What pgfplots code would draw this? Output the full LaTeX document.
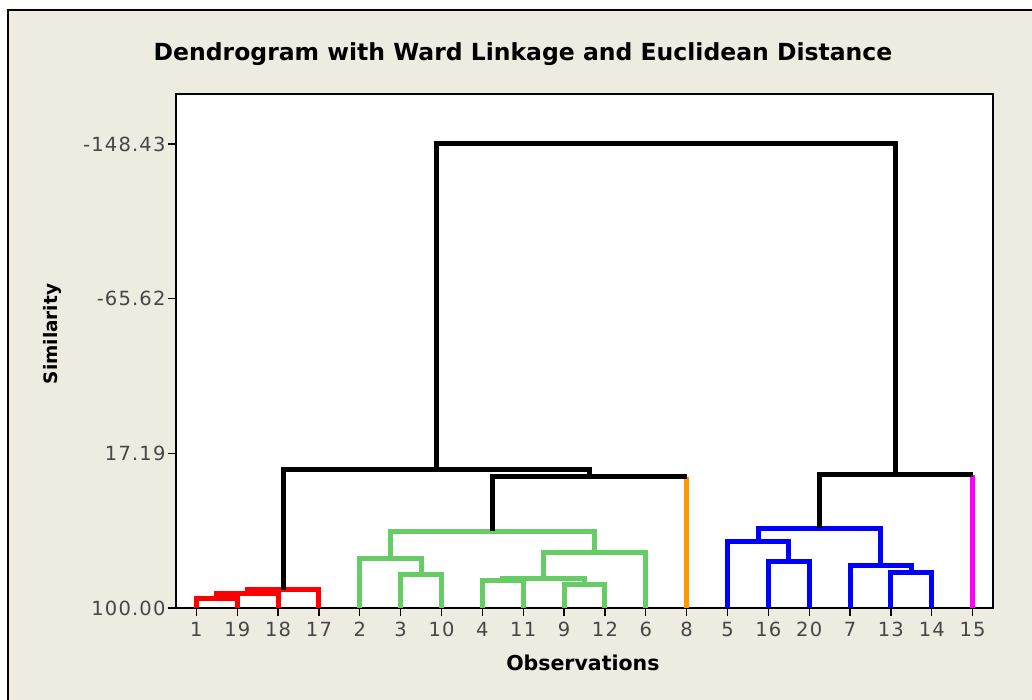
\documentclass[border=0pt]{standalone}
\usepackage{pgfplots}
\pgfplotsset{compat=1.18}
\usepackage{fontspec}
\setmainfont{DejaVu Sans}
\newfontfamily\tickfont[LetterSpace=6]{DejaVu Sans}
\definecolor{bgbeige}{RGB}{238,235,225}
\definecolor{tickgray}{RGB}{70,70,70}
\definecolor{dgreen}{RGB}{102,204,102}
\definecolor{dorange}{RGB}{255,153,0}
\definecolor{dmagenta}{RGB}{255,0,255}
\begin{document}
\begin{tikzpicture}[x=1bp,y=1bp]
\path[use as bounding box, fill=white] (0,0) rectangle (1032,700);
\fill[bgbeige] (8,0) rectangle (1032,690);
\draw[line width=1.5bp] (8,0) -- (8,690) -- (1032,690);
\begin{axis}[
  at={(176bp,92bp)}, anchor=south west,
  scale only axis, width=817bp, height=514bp,
  xmin=0.5, xmax=20.5, ymin=-175.2, ymax=100, y dir=reverse,
  axis background/.style={fill=white},
  axis line style={line width=1.3bp, black},
  xtick={1,...,20},
  xticklabels={1,19,18,17,2,3,10,4,11,9,12,6,8,5,16,20,7,13,14,15},
  ytick={-148.43,-65.62,17.19,100},
  yticklabels={-148.43,-65.62,17.19,100.00},
  tick align=outside, xtick pos=bottom, ytick pos=left,
  major tick length=8bp,
  tick style={line width=1.3bp, black},
  ticklabel style={font=\tickfont\fontsize{19.5bp}{23bp}\selectfont, text=tickgray},
  xticklabel style={yshift=-3bp},
  yticklabel style={xshift=1bp},
  title={Dendrogram with Ward Linkage and Euclidean Distance},
  title style={font=\bfseries\fontsize{23.5bp}{28bp}\selectfont, at={(axis description cs:0.4247,1.066)}, anchor=center},
  xlabel={Observations},
  xlabel style={font=\bfseries\fontsize{20.5bp}{24bp}\selectfont, at={(axis description cs:0.498,-0.107)}, anchor=center},
  ylabel={Similarity},
  ylabel style={font=\bfseries\fontsize{18.5bp}{22bp}\selectfont, at={(axis description cs:-0.1506,0.533)}, anchor=center},
  every axis plot/.append style={line width=5bp, no markers, line join=miter},
]
% red cluster
\addplot[red] coordinates {(1,100) (1,94.65) (2,94.65) (2,100)};
\addplot[red] coordinates {(1.5,94.65) (1.5,91.97) (3,91.97) (3,100)};
\addplot[red] coordinates {(2.25,91.97) (2.25,90.36) (4,90.36) (4,100)};
% green cluster
\addplot[dgreen] coordinates {(6,100) (6,82.33) (7,82.33) (7,100)};
\addplot[dgreen] coordinates {(5,100) (5,73.23) (6.5,73.23) (6.5,82.33)};
\addplot[dgreen] coordinates {(8,100) (8,85.01) (9,85.01) (9,100)};
\addplot[dgreen] coordinates {(10,100) (10,87.15) (11,87.15) (11,100)};
\addplot[dgreen] coordinates {(8.5,85.01) (8.5,83.94) (10.5,83.94) (10.5,87.15)};
\addplot[dgreen] coordinates {(9.5,83.94) (9.5,70.55) (12,70.55) (12,100)};
\addplot[dgreen] coordinates {(5.75,73.23) (5.75,58.78) (10.75,58.78) (10.75,70.55)};
% orange leaf 8
\addplot[dorange] coordinates {(13,29.86) (13,100)};
% blue cluster
\addplot[blue] coordinates {(15,100) (15,75.37) (16,75.37) (16,100)};
\addplot[blue] coordinates {(14,100) (14,64.66) (15.5,64.66) (15.5,75.37)};
\addplot[blue] coordinates {(18,100) (18,81.26) (19,81.26) (19,100)};
\addplot[blue] coordinates {(17,100) (17,77.51) (18.5,77.51) (18.5,81.26)};
\addplot[blue] coordinates {(14.75,64.66) (14.75,57.17) (17.75,57.17) (17.75,77.51)};
% magenta leaf 15
\addplot[dmagenta] coordinates {(20,28.79) (20,100)};
% black links
\addplot[black] coordinates {(8.25,58.78) (8.25,29.86) (13,29.86)};
\addplot[black] coordinates {(3.125,90.36) (3.125,25.58) (10.625,25.58) (10.625,29.86)};
\addplot[black] coordinates {(16.25,57.17) (16.25,28.79) (20,28.79)};
\addplot[black] coordinates {(6.875,25.58) (6.875,-148.43) (18.125,-148.43) (18.125,28.79)};
\end{axis}
\end{tikzpicture}
\end{document}
